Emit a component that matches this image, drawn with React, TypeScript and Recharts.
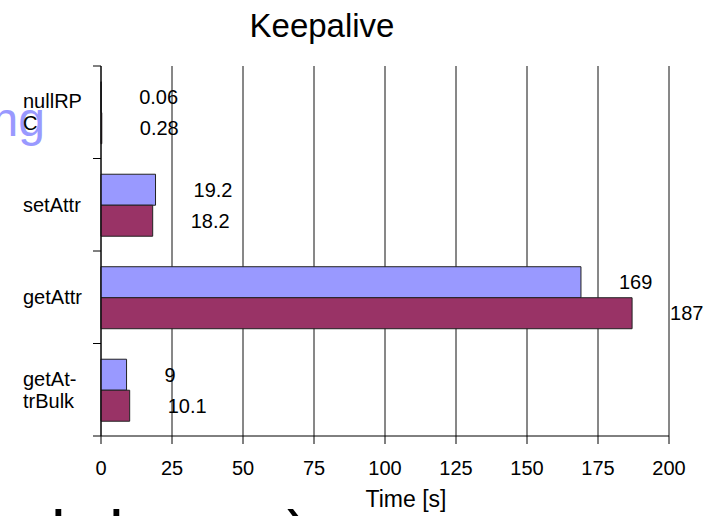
import React from 'react';
import { BarChart, Bar, XAxis, YAxis, CartesianGrid, LabelList } from 'recharts';

const categories = ['nullRPC', 'setAttr', 'getAttr', 'getAttrBulk'];
const tickLabels = [['nullRP', 'C'], ['setAttr'], ['getAttr'], ['getAt-', 'trBulk']];
const seriesA = [0.06, 19.2, 169, 9];
const seriesB = [0.28, 18.2, 187, 10.1];
const labelsA = ['0.06', '19.2', '169', '9'];
const labelsB = ['0.28', '18.2', '187', '10.1'];
const xTicks = [0, 25, 50, 75, 100, 125, 150, 175, 200];
const title = 'Keepalive';
const xTitle = 'Time [s]';

const data = categories.map((c, i) => ({ name: c, a: seriesA[i], b: seriesB[i], la: labelsA[i], lb: labelsB[i] }));

const W = 709;
const H = 516;
const M = { top: 66, right: 40, bottom: 50, left: 0 };
const Y_AXIS_W = 101;
const X_AXIS_H = 30;
const PLOT_H = H - M.top - M.bottom - X_AXIS_H;
const BAND = PLOT_H / categories.length;
const FONT = 'Arial, "Liberation Sans", Helvetica, sans-serif';

const YTick = (props: any) => {
  const { y, index, payload } = props;
  const axisX = Y_AXIS_W;
  const idx = categories.indexOf(payload.value);
  const lines = tickLabels[idx] || [payload.value];
  const lh = 22;
  const start = y - ((lines.length - 1) * lh) / 2;
  return (
    <g>
      <line x1={axisX - 8} x2={axisX} y1={y - BAND / 2} y2={y - BAND / 2} stroke="#000" />
      {index === categories.length - 1 && (
        <line x1={axisX - 8} x2={axisX} y1={y + BAND / 2} y2={y + BAND / 2} stroke="#000" />
      )}
      {lines.map((l: string, i: number) => (
        <text key={i} x={23} y={start + i * lh} dy="0.35em" fontSize={20} fill="#000" textAnchor="start" style={{ fontFamily: FONT }}>
          {l}
        </text>
      ))}
    </g>
  );
};

const makeLabel = (key: 'la' | 'lb') => (props: any) => {
  const { x, y, width, height, index } = props;
  const txt = data[index][key];
  return (
    <text x={x + width + 38} y={y + height / 2} dy="0.35em" fontSize={20} fill="#000" textAnchor="start" style={{ fontFamily: FONT }}>
      {txt}
    </text>
  );
};

export default function App() {
  return (
    <div style={{ position: 'absolute', left: 0, top: 0, width: W, height: H, fontFamily: FONT, background: '#fff' }}>
      <svg width={W} height={H} style={{ position: 'absolute', left: 0, top: 0, fontFamily: FONT }}>
        <text x={45} y={136} fontSize={48} fill="#9999FF" textAnchor="end">ng</text>
        <text y={557} fontSize={66} fill="#000">
          <tspan x={51}>l</tspan>
          <tspan x={109}>l</tspan>
          <tspan x={287}>)</tspan>
        </text>
        <text x={322} y={37} fontSize={33} fill="#000" textAnchor="middle">{title}</text>
        <text x={406} y={507} fontSize={23} fill="#000" textAnchor="middle">{xTitle}</text>
      </svg>
      <div style={{ position: 'absolute', left: 0, top: 0 }}>
        <BarChart width={W} height={H} data={data} layout="vertical" margin={M} barCategoryGap="17%" barGap={0} style={{ fontFamily: FONT }}>
          <CartesianGrid horizontal={false} vertical={true} stroke="#111" strokeWidth={1} />
          <XAxis
            type="number"
            domain={[0, 200]}
            ticks={xTicks}
            interval={0}
            height={X_AXIS_H}
            tickSize={8}
            tickMargin={17}
            stroke="#000"
            tick={{ fill: '#000', fontSize: 20, style: { fontFamily: FONT } }}
            axisLine={{ stroke: '#000' }}
            tickLine={{ stroke: '#000' }}
          />
          <YAxis
            type="category"
            dataKey="name"
            width={Y_AXIS_W}
            axisLine={{ stroke: '#000' }}
            tickLine={false}
            tick={<YTick />}
            interval={0}
          />
          <Bar dataKey="a" fill="#9999FF" stroke="#222" strokeWidth={1} isAnimationActive={false}>
            <LabelList dataKey="la" content={makeLabel('la')} />
          </Bar>
          <Bar dataKey="b" fill="#993366" stroke="#222" strokeWidth={1} isAnimationActive={false}>
            <LabelList dataKey="lb" content={makeLabel('lb')} />
          </Bar>
        </BarChart>
      </div>
    </div>
  );
}
